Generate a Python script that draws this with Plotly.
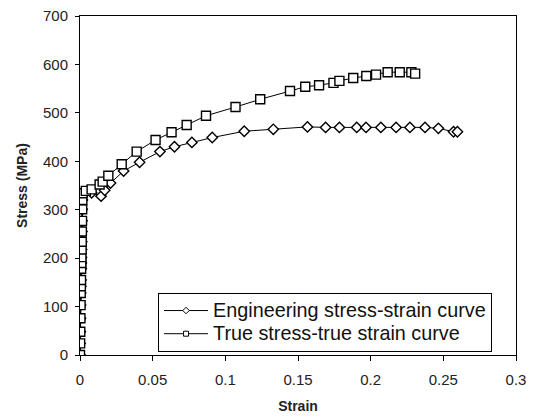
import plotly.graph_objects as go

# Elastic part (shared by both curves)
elastic_strain = [0.0, 0.0001, 0.0002, 0.0003, 0.0004, 0.0005, 0.0006, 0.0007, 0.0008,
                  0.0009, 0.001, 0.0011, 0.0012, 0.0013, 0.0014, 0.0015, 0.0016, 0.0017]
elastic_stress = [0, 24, 48, 76, 103, 128, 142, 155, 178, 190, 202, 218, 234, 255, 277, 301, 320, 334]

eng_strain_plastic = [0.004, 0.008, 0.0145, 0.017, 0.021, 0.030, 0.041, 0.055, 0.065, 0.077,
                      0.091, 0.113, 0.133, 0.1565, 0.169, 0.1785, 0.1904, 0.1968, 0.207,
                      0.2175, 0.227, 0.2374, 0.2466, 0.257, 0.2597]
eng_stress_plastic = [336, 335, 328, 340, 355, 380, 398, 420, 430, 439,
                      449, 462, 466, 471, 470, 470, 470, 470, 470,
                      470, 470, 470, 468, 461, 461]

true_strain_plastic = [0.004, 0.008, 0.0135, 0.0156, 0.0195, 0.0287, 0.039, 0.052, 0.063, 0.0734,
                       0.0867, 0.107, 0.124, 0.1445, 0.155, 0.1645, 0.1744, 0.1785, 0.188,
                       0.197, 0.2037, 0.2117, 0.220, 0.228, 0.2306]
true_stress_plastic = [339, 342, 352, 358, 370, 394, 420, 444, 460, 475,
                       494, 512, 528, 545, 554, 557, 562, 566, 572,
                       576, 579, 584, 584, 584, 581]

series_names = ["Engineering stress-strain curve", "True stress-true strain curve"]
x_ticks = [0, 0.05, 0.1, 0.15, 0.2, 0.25, 0.3]
x_tick_labels = ["0", "0.05", "0.1", "0.15", "0.2", "0.25", "0.3"]
y_ticks = [0, 100, 200, 300, 400, 500, 600, 700]

eng_x = elastic_strain + eng_strain_plastic
eng_y = elastic_stress + eng_stress_plastic
true_x = elastic_strain + true_strain_plastic
true_y = elastic_stress + true_stress_plastic

FONT = "Liberation Sans, Arial, sans-serif"


def big(label):
    return '<span style="font-size:19.8px">' + label + '</span>'


fig = go.Figure()
fig.add_trace(go.Scatter(
    x=eng_x, y=eng_y, mode="lines+markers", showlegend=False,
    line=dict(color="black", width=1),
    marker=dict(symbol="diamond", size=8, color="white", line=dict(color="black", width=1.4)),
))
fig.add_trace(go.Scatter(
    x=true_x, y=true_y, mode="lines+markers", showlegend=False,
    line=dict(color="black", width=1),
    marker=dict(symbol="square", size=9, color="white", line=dict(color="black", width=1.4)),
))
# legend entries with small markers
fig.add_trace(go.Scatter(
    x=[None], y=[None], mode="lines+markers", name=big(series_names[0]),
    line=dict(color="black", width=1),
    marker=dict(symbol="diamond", size=5, color="white", line=dict(color="black", width=1)),
))
fig.add_trace(go.Scatter(
    x=[None], y=[None], mode="lines+markers", name=big(series_names[1]),
    line=dict(color="black", width=1),
    marker=dict(symbol="square", size=5, color="white", line=dict(color="black", width=1)),
))

fig.update_layout(
    width=533, height=418,
    margin=dict(l=80, r=17, t=16, b=63, autoexpand=False),
    paper_bgcolor="white", plot_bgcolor="white",
    font=dict(family=FONT, color="#222222"),
    showlegend=True,
    legend=dict(
        x=0.179, y=0.183, xanchor="left", yanchor="top",
        bgcolor="white", bordercolor="black", borderwidth=1,
        font=dict(size=15.5, color="#111111", family=FONT),
        itemwidth=44, tracegroupgap=0,
    ),
)
fig.update_xaxes(
    range=[0, 0.3], tickvals=x_ticks, ticktext=x_tick_labels,
    showgrid=False, zeroline=False, automargin=False,
    showline=True, linecolor="black", linewidth=1, mirror=True,
    ticks="outside", ticklen=5, tickcolor="black", tickwidth=1,
    tickfont=dict(size=15, color="#222222"),
    ticklabelstandoff=6,
    title=dict(text="<b>Strain</b>", font=dict(size=14, color="#222222"), standoff=14),
)
fig.update_yaxes(
    range=[0, 700], tickvals=y_ticks,
    showgrid=False, zeroline=False, automargin=False,
    showline=True, linecolor="black", linewidth=1, mirror=True,
    ticks="outside", ticklen=4, tickcolor="black", tickwidth=1,
    tickfont=dict(size=15, color="#222222"),
    ticklabelstandoff=4,
    title=dict(text="<b>Stress (MPa)</b>", font=dict(size=14, color="#222222"), standoff=12),
)

fig.write_html(
    "out.html",
    config={"displayModeBar": False},
    post_script="document.body.style.margin='0';document.body.style.overflow='hidden';",
)
